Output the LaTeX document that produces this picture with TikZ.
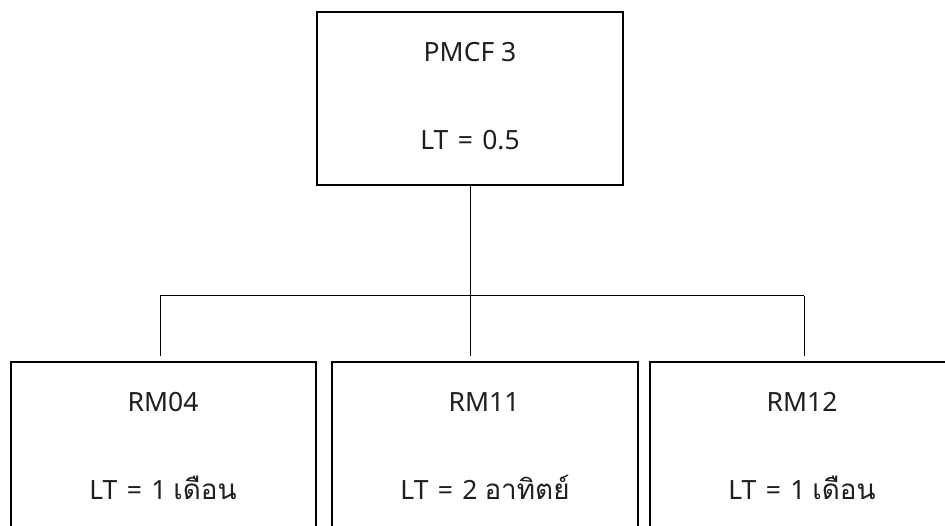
\documentclass[tikz,border=0pt]{standalone}
\usepackage{fontspec}
\setmainfont{Noto Sans}
\newfontfamily\thai[Script=Thai,Scale=1.05]{Loma}
\newcommand{\eqsign}{\hspace{2.5pt}=\hspace{2.5pt}}
\begin{document}
\begin{tikzpicture}[x=1pt,y=-1pt,
  box/.style={draw=black,line width=2.2pt,rectangle,inner sep=0pt,fill=white},
  lbl/.style={anchor=base,inner sep=0pt,font=\fontsize{26.5}{30}\selectfont,text=black!88},
  wire/.style={draw=black,line width=1pt}]
  \useasboundingbox (0,0) rectangle (945,526);
  \clip (0,0) rectangle (945,526);

  % parent box
  \node[box,minimum width=306pt,minimum height=173pt] (top) at (470,98.5) {};
  \node[lbl] (topname) at (470,62) {PMCF 3};
  \node[lbl] (toplt) at (470,150) {LT \eqsign{} 0.5};

  % child boxes (they run past the lower edge)
  \node[box,minimum width=305pt,minimum height=200pt] (rmA) at (163.5,462) {};
  \node[box,minimum width=306pt,minimum height=200pt] (rmB) at (485,462) {};
  \node[box,minimum width=305pt,minimum height=200pt] (rmC) at (802.5,462) {};

  \node[lbl] (rmAname) at (163,411) {RM04};
  \node[lbl] (rmAlt) at (163,499) {LT \eqsign{} 1 {\thai เดือน}};
  \node[lbl] (rmBname) at (484,411) {RM11};
  \node[lbl] (rmBlt) at (485,499) {LT \eqsign{} 2 {\thai อาทิตย์}};
  \node[lbl] (rmCname) at (802,411) {RM12};
  \node[lbl] (rmClt) at (802,499) {LT \eqsign{} 1 {\thai เดือน}};

  % tree connectors
  \coordinate (hub) at (470,296);
  \coordinate (hl) at (160,296);
  \coordinate (hr) at (804,296);
  \coordinate (dl) at (160,356);
  \coordinate (dm) at (470,356);
  \coordinate (dr) at (804,356);
  \draw[wire] (top.south) -- (hub);
  \draw[wire] (hl) -- (hr);
  \draw[wire] (hl) -- (dl);
  \draw[wire] (hub) -- (dm);
  \draw[wire] (hr) -- (dr);
\end{tikzpicture}
\end{document}
